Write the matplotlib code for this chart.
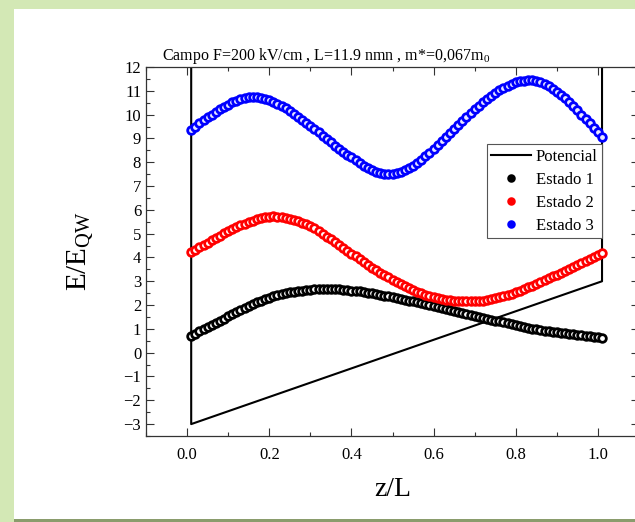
import numpy as np
import matplotlib
matplotlib.use('Agg')
import matplotlib.pyplot as plt
from matplotlib.ticker import MultipleLocator
from matplotlib.patches import Rectangle


# posiciones z/L de los estados
z = np.linspace(0.01, 1.01, 101)

estado1 = [0.71, 0.80, 0.89, 0.98, 1.07, 1.16, 1.25, 1.34, 1.43, 1.52,
           1.61, 1.70, 1.79, 1.88, 1.96, 2.04, 2.11, 2.18, 2.25, 2.31,
           2.37, 2.42, 2.46, 2.50, 2.53, 2.56, 2.59, 2.61, 2.63, 2.65,
           2.66, 2.67, 2.68, 2.68, 2.68, 2.67, 2.66, 2.65, 2.63, 2.61,
           2.59, 2.57, 2.55, 2.52, 2.49, 2.46, 2.43, 2.40, 2.37, 2.33,
           2.30, 2.26, 2.22, 2.19, 2.15, 2.11, 2.07, 2.03, 1.99, 1.95,
           1.91, 1.87, 1.83, 1.79, 1.75, 1.71, 1.67, 1.63, 1.59, 1.55,
           1.51, 1.47, 1.43, 1.39, 1.35, 1.31, 1.27, 1.23, 1.19, 1.15,
           1.11, 1.07, 1.04, 1.01, 0.98, 0.95, 0.92, 0.89, 0.87, 0.85,
           0.83, 0.81, 0.79, 0.77, 0.75, 0.73, 0.71, 0.69, 0.67, 0.65,
           0.63]

estado2 = [4.22, 4.32, 4.42, 4.52, 4.62, 4.72, 4.82, 4.92, 5.01, 5.10,
           5.19, 5.27, 5.35, 5.42, 5.49, 5.55, 5.61, 5.66, 5.70, 5.72,
           5.73, 5.72, 5.69, 5.66, 5.63, 5.58, 5.52, 5.46, 5.39, 5.31,
           5.22, 5.11, 5.00, 4.88, 4.76, 4.64, 4.52, 4.40, 4.28, 4.16,
           4.04, 3.92, 3.80, 3.68, 3.57, 3.46, 3.36, 3.26, 3.16, 3.06,
           2.97, 2.88, 2.79, 2.71, 2.63, 2.56, 2.50, 2.44, 2.38, 2.34,
           2.30, 2.26, 2.23, 2.21, 2.19, 2.17, 2.16, 2.15, 2.15, 2.16,
           2.17, 2.19, 2.21, 2.24, 2.28, 2.32, 2.37, 2.42, 2.48, 2.54,
           2.61, 2.68, 2.75, 2.82, 2.89, 2.96, 3.04, 3.12, 3.20, 3.28,
           3.36, 3.44, 3.52, 3.61, 3.69, 3.77, 3.85, 3.93, 4.01, 4.09,
           4.17]

estado3 = [9.37, 9.50, 9.63, 9.76, 9.88, 10.00, 10.12, 10.23, 10.33, 10.42,
           10.51, 10.58, 10.65, 10.70, 10.73, 10.75, 10.74, 10.71, 10.67, 10.61,
           10.54, 10.46, 10.37, 10.26, 10.15, 10.03, 9.91, 9.78, 9.65, 9.52,
           9.38, 9.25, 9.11, 8.97, 8.83, 8.70, 8.57, 8.44, 8.32, 8.20,
           8.08, 7.97, 7.86, 7.76, 7.68, 7.61, 7.55, 7.51, 7.50, 7.51,
           7.54, 7.60, 7.67, 7.76, 7.86, 7.98, 8.11, 8.25, 8.40, 8.56,
           8.72, 8.89, 9.06, 9.23, 9.40, 9.57, 9.74, 9.91, 10.07, 10.23,
           10.38, 10.52, 10.66, 10.79, 10.91, 11.02, 11.12, 11.21, 11.29, 11.35,
           11.40, 11.43, 11.45, 11.44, 11.41, 11.36, 11.28, 11.19, 11.09, 10.97,
           10.84, 10.69, 10.53, 10.36, 10.18, 10.00, 9.82, 9.64, 9.45, 9.26,
           9.07]

# potencial del pozo con campo
pot_z = [0.01, 0.01, 1.01, 1.01]
pot_v = [13.0, -3.0, 3.0, 13.0]

plt.rcParams['font.family'] = ['Liberation Serif', 'DejaVu Serif']
plt.rcParams['mathtext.fontset'] = 'custom'
plt.rcParams['mathtext.rm'] = 'Liberation Serif'

fig = plt.figure(figsize=(6.35, 5.22), dpi=100, facecolor='#d3e8b5')
# panel blanco con sombra inferior
fig.patches.append(Rectangle((14 / 635, 0), 1, 3 / 522, transform=fig.transFigure,
                             facecolor='#8a9c6c', edgecolor='none', zorder=-10))
fig.patches.append(Rectangle((14 / 635, 3 / 522), 1, 1 - 12 / 522, transform=fig.transFigure,
                             facecolor='white', edgecolor='none', zorder=-10))

ax = fig.add_axes([146 / 635, 86 / 522, 493 / 635, 369 / 522])
ax.set_facecolor('white')

ax.plot(pot_z, pot_v, color='black', lw=1.5, label='Potencial', zorder=2)
for ys, c, lab in [(estado1, 'black', 'Estado 1'),
                   (estado2, 'red', 'Estado 2'),
                   (estado3, 'blue', 'Estado 3')]:
    ax.plot(z, ys, ls='none', marker='o', ms=5.5, mec=c, mfc='#e8e8ff' if c == 'blue' else 'white',
            mew=2.0, color=c, label=lab, zorder=3)

ax.set_xlim(-0.1, 1.1)
ax.set_ylim(-3.5, 12)
ax.xaxis.set_major_locator(MultipleLocator(0.2))
ax.xaxis.set_minor_locator(MultipleLocator(0.1))
ax.yaxis.set_major_locator(MultipleLocator(1))
ax.yaxis.set_minor_locator(MultipleLocator(0.5))
ax.set_xticks([0.0, 0.2, 0.4, 0.6, 0.8, 1.0])
ax.set_xticklabels(['0.0', '0.2', '0.4', '0.6', '0.8', '1.0'])
ax.set_yticks(range(-3, 13))
ax.set_yticklabels([str(v).replace('-', '\u2212') for v in range(-3, 13)])
ax.tick_params(which='both', direction='in', top=True, right=True, labelsize=12,
               color='#333333', width=0.8)
ax.tick_params(which='major', length=6)
ax.tick_params(axis='x', which='major', pad=8)
ax.tick_params(which='minor', length=3)
for s in ax.spines.values():
    s.set_color('#333333')
    s.set_linewidth(0.9)

ax.set_xlabel('z/L', fontsize=20, labelpad=10)
ax.set_ylabel(r'E/E$_{\mathrm{QW}}$', fontsize=21, labelpad=20)
ax.set_title(r'Campo F=200 kV/cm , L=11.9 nmn , m*=0,067m$_{\mathrm{0}}$',
             fontsize=11.5, x=(326 - 146) / 493, pad=5)

leg = ax.legend(loc='upper right', bbox_to_anchor=(0.925, 0.79), fontsize=12,
                frameon=True, fancybox=False, framealpha=1, edgecolor='#555555',
                handlelength=2.4, handletextpad=0.3, borderpad=0.25,
                labelspacing=0.42, borderaxespad=0, markerscale=0.75)
leg.get_frame().set_linewidth(0.8)
for h in leg.legend_handles[1:]:
    h.set_markerfacecolor(h.get_markeredgecolor())

plt.savefig('out.png', dpi=100, facecolor=fig.get_facecolor())
